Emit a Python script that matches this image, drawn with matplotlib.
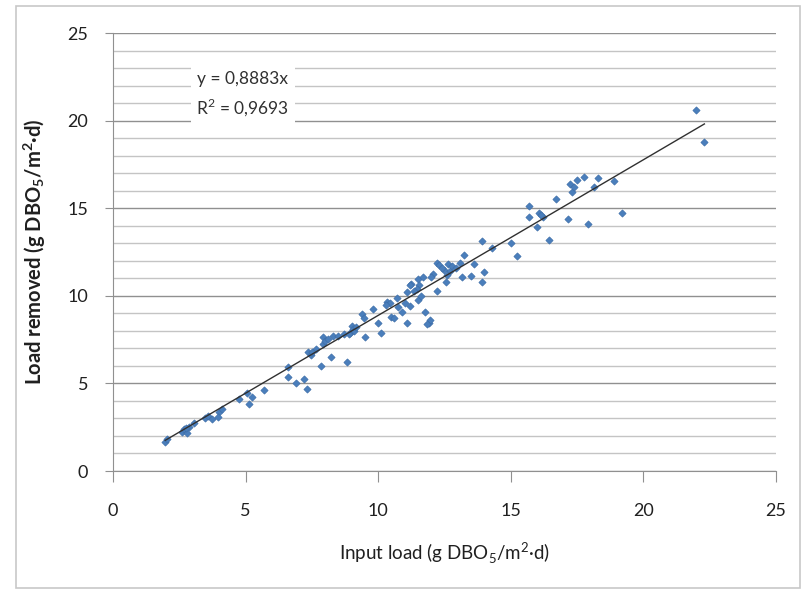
import matplotlib.pyplot as plt
from matplotlib.ticker import MultipleLocator
from matplotlib.patches import Rectangle

# input load vs load removed
input_load = [1.97, 2.05, 2.6, 2.66, 2.79, 2.85, 2.75, 3.04, 3.48, 3.6, 3.74, 3.99,
              4.12, 3.95, 4.75, 5.06, 5.25, 5.13, 5.69, 6.58, 6.6, 6.9, 7.2, 7.31,
              7.34, 7.45, 7.65, 7.5, 7.84, 7.9, 8.28, 8.22, 8.83, 7.9, 8.0, 8.1,
              8.5, 8.7, 9.0, 8.95, 9.05, 9.1, 8.9, 9.15, 9.4, 9.45, 9.5, 9.8,
              10.0, 10.1, 10.35, 10.45, 10.5, 10.6, 10.7, 10.75, 10.9, 11.1, 11.2, 11.25,
              11.5, 11.55, 11.5, 11.1, 11.75, 11.9, 11.95, 11.85, 12.05, 12.0, 12.2, 12.3,
              12.2, 12.55, 12.5, 12.65, 12.7, 12.8, 12.95, 12.6, 12.4, 13.15, 13.1, 13.25,
              13.5, 13.6, 14.0, 13.9, 13.9, 14.3, 15.0, 15.25, 15.7, 15.7, 16.05, 16.2,
              16.15, 16.0, 16.45, 16.7, 17.15, 17.25, 17.3, 17.4, 17.5, 17.75, 17.9, 18.15,
              18.3, 18.9, 19.2, 22.0, 22.3, 11.2, 11.7, 11.45, 11.35, 11.6, 11.0, 10.3]
load_removed = [1.68, 1.85, 2.25, 2.38, 2.19, 2.5, 2.45, 2.76, 3.05, 3.15, 2.95, 3.34,
                3.53, 3.1, 4.1, 4.48, 4.23, 3.81, 4.62, 5.91, 5.38, 5.05, 5.25, 4.67,
                6.77, 6.6, 6.96, 6.8, 6.0, 7.63, 7.72, 6.48, 6.25, 7.25, 7.4, 7.55,
                7.7, 7.8, 8.3, 7.9, 8.1, 8.0, 7.8, 8.2, 8.95, 8.75, 7.65, 9.25,
                8.45, 7.85, 9.65, 9.6, 8.8, 8.75, 9.9, 9.35, 9.05, 10.2, 9.4, 10.7,
                10.95, 10.6, 9.75, 8.45, 9.1, 8.45, 8.6, 8.4, 11.25, 11.1, 11.9, 11.75,
                10.3, 10.8, 11.5, 11.8, 11.4, 11.7, 11.6, 11.2, 11.6, 11.05, 11.85, 12.35,
                11.15, 11.8, 11.35, 10.8, 13.1, 12.7, 13.0, 12.3, 15.1, 14.5, 14.7, 14.5,
                14.6, 13.9, 13.2, 15.5, 14.4, 16.4, 15.9, 16.2, 16.6, 16.8, 14.1, 16.2,
                16.7, 16.55, 14.7, 20.6, 18.8, 10.6, 11.05, 10.4, 10.3, 10.0, 9.6, 9.5]

slope = 0.8883
r2 = 0.9693

font = ['Lato', 'DejaVu Sans']
plt.rcParams['mathtext.fontset'] = 'custom'
plt.rcParams['mathtext.rm'] = 'Lato'
plt.rcParams['mathtext.bf'] = 'Lato:bold'

fig = plt.figure(figsize=(8.04, 5.94), dpi=100)
fig.patches.append(Rectangle((16/804, 6/594), 784/804, 582/594, transform=fig.transFigure,
                             fill=False, edgecolor='#c8c8c8', linewidth=1.2))
ax = fig.add_axes([113/804, 1 - 471/594, 663/804, 438/594])

ax.scatter(input_load, load_removed, marker='D', s=14, color='#4a7ebb',
           edgecolors='#3a6aa5', linewidths=0.4, zorder=3)

xs = [min(input_load), max(input_load)]
ax.plot(xs, [slope * v for v in xs], color='#303030', linewidth=1.0, zorder=4)

ax.set_xlim(0, 25)
ax.set_ylim(0, 25)
ax.xaxis.set_major_locator(MultipleLocator(5))
ax.yaxis.set_major_locator(MultipleLocator(5))
ax.yaxis.set_minor_locator(MultipleLocator(1))
ax.grid(axis='y', which='major', color='#909090', linewidth=1.0)
ax.grid(axis='y', which='minor', color='#c4c4c4', linewidth=1.0)
ax.set_axisbelow(True)

for s in ['top', 'right']:
    ax.spines[s].set_visible(False)
ax.spines['left'].set_color('#909090')
ax.spines['bottom'].set_color('#909090')
ax.tick_params(axis='y', which='major', direction='out', length=6, color='#909090', pad=12)
ax.tick_params(axis='y', which='minor', length=0)
ax.tick_params(axis='x', direction='out', length=8, color='#909090', pad=15)
for t in ax.get_xticklabels() + ax.get_yticklabels():
    t.set_fontfamily(font)
    t.set_fontsize(13)
    t.set_color('#202020')

ax.set_xlabel('Input load (g DBO$_5$/m$^2$·d)', fontfamily=font, fontsize=13.5,
              color='#202020', labelpad=16)
ax.set_ylabel(r'Load removed (g DBO$_\mathbf{5}$/m$^\mathbf{2}$·d)', fontfamily=font,
              fontsize=14.5, fontweight='bold', color='#202020', labelpad=14)

ax.text(4.9, 21.5, 'y = 0,8883x\nR$^2$ = ' + f'{r2}'.replace('.', ','),
        fontfamily=font, fontsize=12.5, color='#303030', ha='center', va='center',
        linespacing=1.5, zorder=5,
        bbox=dict(facecolor='white', edgecolor='none', pad=4))

fig.savefig('out.png', dpi=100)
